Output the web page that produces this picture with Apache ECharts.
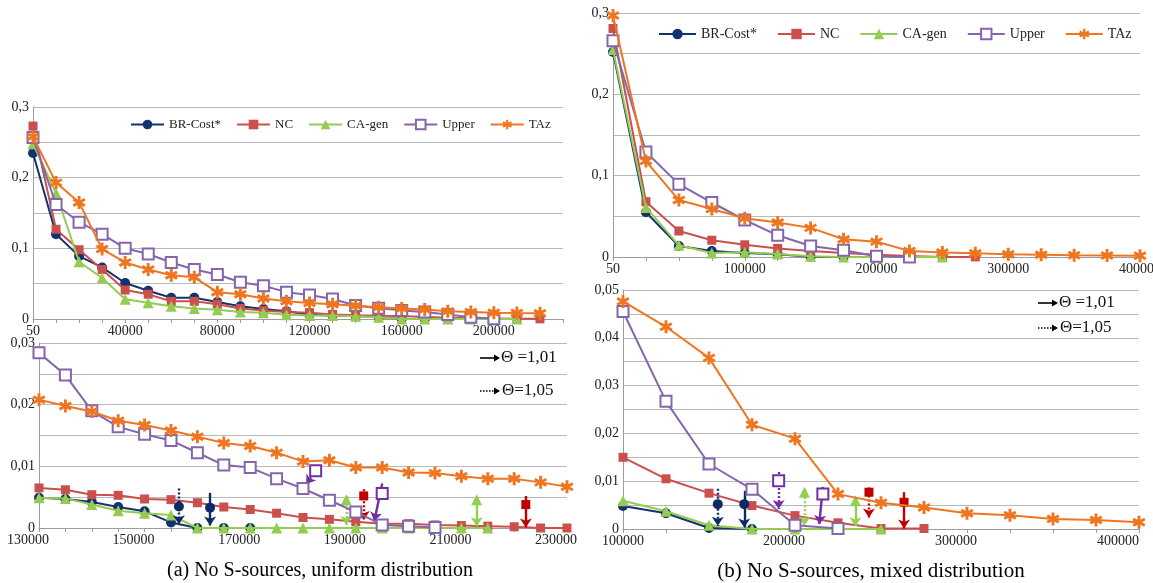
<!DOCTYPE html>
<html><head><meta charset="utf-8">
<script src="https://cdn.jsdelivr.net/npm/echarts@6/dist/echarts.min.js"></script>
<style>html,body{margin:0;padding:0;background:#fff}#c{width:1153px;height:583px}</style>
</head><body><div id="c"></div>
<script>
// ---------- names ----------
const seriesNames = ['BR-Cost*', 'NC', 'CA-gen', 'Upper', 'TAz'];
const captionA = '(a) No S-sources, uniform distribution';
const captionB = '(b) No S-sources, mixed distribution';
const thetaSolid = 'Θ =1,01';
const thetaDotted = 'Θ=1,05';

// ---------- (a) top: categories 50 .. 230000 ----------
const catsA1 = ['50','10000','20000','30000','40000','50000','60000','70000','80000','90000','100000','110000',
  '120000','130000','140000','150000','160000','170000','180000','190000','200000','210000','220000','230000'];
const brA1  = [0.235,0.120,0.089,0.073,0.051,0.040,0.030,0.030,0.024,0.018,0.014,0.011,0.006,0.0049,0.0042,0.0027,0,0];
const ncA1  = [0.273,0.127,0.098,0.070,0.041,0.035,0.025,0.025,0.021,0.015,0.012,0.010,0.009,0.0065,0.0054,0.0047,0.0041,0.0030,0.0017,0.0010,0.0007,0.0004,0.0002];
const caA1  = [0.248,0.178,0.081,0.058,0.028,0.023,0.018,0.015,0.013,0.010,0.009,0.006,0.005,0.0049,0.0038,0.0024,0,0,0,0,0,0];
const upA1  = [0.257,0.162,0.137,0.120,0.100,0.092,0.080,0.070,0.063,0.052,0.047,0.038,0.034,0.0284,0.0190,0.0152,0.0122,0.0098,0.0064,0.0026,0.0003];
const tazA1 = [0.258,0.193,0.165,0.099,0.080,0.070,0.062,0.059,0.038,0.035,0.029,0.025,0.0225,0.0208,0.0189,0.0167,0.0148,0.0133,0.0108,0.0098,0.0090,0.0084,0.0080];

// ---------- (a) bottom: 130000 .. 230000 step 5000 ----------
const xsA2 = [130000,135000,140000,145000,150000,155000,160000,165000,170000,175000,180000,185000,190000,
  195000,200000,205000,210000,215000,220000,225000,230000];
const brA2  = [0.0049,0.0047,0.0042,0.0034,0.0027,0.0009,0,0,0];
const ncA2  = [0.0065,0.0062,0.0054,0.0053,0.0047,0.0046,0.0041,0.0034,0.0030,0.0024,0.0017,0.0014,0.0010,0.0007,0.0007,0.0005,0.0004,0.0003,0.0002,0,0];
const caA2  = [0.0049,0.0048,0.0038,0.0028,0.0024,0.0021,0,0,0,0,0,0,0,0,0,0,0,0];
const upA2  = [0.0284,0.0248,0.0190,0.0164,0.0152,0.0142,0.0122,0.0102,0.0098,0.0080,0.0064,0.0045,0.0026,0.0005,0.0003,0.0001];
const tazA2 = [0.0208,0.0198,0.0189,0.0174,0.0167,0.0158,0.0148,0.0138,0.0133,0.0122,0.0108,0.0110,0.0098,0.0098,0.0090,0.0089,0.0084,0.0080,0.0080,0.0074,0.0067];
// arrows: [series index, theta, x top, y top, y of marker, x end, y end]
const arrowsA2 = [
  [0, 1.05, 156500, 0.0064, 0.0035, 156500, 0.0006],
  [0, 1.01, 162400, 0.0057, 0.0033, 162400, 0.0004],
  [1, 1.05, 191500, 0.0063, 0.0052, 191500, 0.0013],
  [1, 1.01, 222200, 0.0052, 0.0038, 222200, 0.0001],
  [2, 1.05, 188200, 0.0052, 0.0046, 188200, 0.0005],
  [2, 1.01, 212900, 0.0050, 0.0046, 212900, 0.0003],
  [3, 1.05, 182400, 0.0093, 0.0093, 180600, 0.0071],
  [3, 1.01, 195000, 0.0072, 0.0056, 193500, 0.0011]
];

// ---------- (b) top: categories 50 .. 400000 ----------
const catsB1 = ['50','25000','50000','75000','100000','125000','150000','175000','200000','225000','250000',
  '275000','300000','325000','350000','375000','400000'];
const brB1  = [0.252,0.055,0.0136,0.0074,0.0048,0.0033,0.0002,0];
const ncB1  = [0.281,0.068,0.032,0.0206,0.0150,0.0105,0.0075,0.0049,0.0028,0.0013,0.0001,0.0001];
const caB1  = [0.255,0.061,0.0144,0.0050,0.0059,0.0037,0.0008,0,0,0,0];
const upB1  = [0.266,0.129,0.0896,0.067,0.0455,0.0267,0.0136,0.0083,0.0008,0.0001];
const tazB1 = [0.297,0.118,0.070,0.059,0.0476,0.0423,0.0358,0.0218,0.0189,0.0073,0.0055,0.0045,0.0033,0.0029,0.0021,0.0019,0.0014];

// ---------- (b) bottom: 100000 .. 400000 step 25000 ----------
const xsB2 = [100000,125000,150000,175000,200000,225000,250000,275000,300000,325000,350000,375000,400000];
const brB2  = [0.0048,0.0033,0.0002,0];
const ncB2  = [0.0150,0.0105,0.0075,0.0049,0.0028,0.0013,0.0001,0.0001];
const caB2  = [0.0059,0.0037,0.0008,0,0,0,0];
const upB2  = [0.0455,0.0267,0.0136,0.0083,0.0008,0.0001];
const tazB2 = [0.0476,0.0423,0.0358,0.0218,0.0189,0.0073,0.0055,0.0045,0.0033,0.0029,0.0021,0.0019,0.0014];
const arrowsB2 = [
  [0, 1.05, 155100, 0.0084, 0.0052, 155100, 0.0007],
  [0, 1.01, 170500, 0.0080, 0.0052, 170500, 0.0003],
  [1, 1.05, 243000, 0.0087, 0.0077, 243000, 0.0024],
  [1, 1.01, 263400, 0.0077, 0.0056, 263400, 0.0001],
  [2, 1.05, 205500, 0.0083, 0.0077, 205500, 0.0007],
  [2, 1.01, 235100, 0.0065, 0.0059, 235100, 0.0006],
  [3, 1.05, 190500, 0.0119, 0.0101, 190500, 0.0042],
  [3, 1.01, 216200, 0.0088, 0.0073, 214100, 0.0010]
];

// ---------- styles ----------
const FONT = '"Liberation Serif", "DejaVu Serif", serif';
const lineColors  = ['#14326e', '#c9504c', '#94cc52', '#8466ad', '#ef7620'];
const arrowColors = ['#0e2a66', '#c00000', '#92d050', '#7030a0', '#e86c10'];
const ASTER = 'path://M0.78 0L0.78 2L1.22 2L1.22 0Z M1.756 1.6905L1.976 1.3095L0.244 0.3095L0.024 0.6905Z M1.976 0.6905L1.756 0.3095L0.024 1.3095L0.244 1.6905Z';
const symbols = ['circle', 'rect', 'triangle', 'emptyRect', ASTER];
const symSizes = [10, 9, 11, 11, 13];

function yAxis(grid, max, step, labelStep) {
  return {
    gridIndex: grid, type: 'value', min: 0, max: max, interval: step,
    axisLine: { show: true, lineStyle: { color: '#9c9c9c', width: 1 } },
    axisTick: { show: false },
    splitLine: { show: true, lineStyle: { color: '#b9b9b9', width: 1 } },
    axisLabel: {
      fontFamily: FONT, fontSize: 14, color: '#222', margin: 4,
      formatter: function (v) {
        const k = v / labelStep;
        if (Math.abs(k - Math.round(k)) > 1e-6) return '';
        if (Math.abs(v) < 1e-12) return '0';
        return String(+v.toFixed(4)).replace('.', ',');
      }
    }
  };
}
const xLine = { show: true, onZero: false, lineStyle: { color: '#9c9c9c', width: 1 } };
const xTick = { show: true, length: 4, lineStyle: { color: '#9c9c9c' } };
const richShift = {
  s: { fontFamily: FONT, fontSize: 14, color: '#222', padding: [0, 22, 0, 0] },
  n: { fontFamily: FONT, fontSize: 14, color: '#222' }
};
function catAxis(grid, cats) {
  return {
    gridIndex: grid, type: 'category', data: cats, boundaryGap: false,
    axisLine: xLine, axisTick: Object.assign({ interval: 0 }, xTick), splitLine: { show: false },
    axisLabel: { interval: 3, fontFamily: FONT, fontSize: 14, color: '#222', margin: 5 }
  };
}
function valAxis(grid, min, max, step, labelStep, firstPlain, alignMax) {
  return {
    gridIndex: grid, type: 'value', min: min, max: max, interval: step,
    axisLine: xLine, axisTick: xTick, splitLine: { show: false },
    axisLabel: {
      fontFamily: FONT, fontSize: 14, color: '#222', margin: 5,
      showMinLabel: true, showMaxLabel: true, hideOverlap: false,
      alignMaxLabel: alignMax || null,
      rich: richShift,
      formatter: function (v) {
        if (Math.abs((v - min) % labelStep) > 1e-6) return '';
        if ((firstPlain && v === min) || (alignMax && v === max)) return '{n|' + v + '}';
        return '{s|' + v + '}';
      }
    }
  };
}

function baseSeries(i, xi, data) {
  return {
    name: seriesNames[i], type: 'line', xAxisIndex: xi, yAxisIndex: xi,
    data: data, symbol: symbols[i], symbolSize: symSizes[i], showAllSymbol: true,
    connectNulls: false, z: 2 + i,
    lineStyle: { color: lineColors[i], width: 2 },
    itemStyle: { color: lineColors[i], borderWidth: i === 3 ? 1.6 : 0, borderColor: lineColors[i] },
    emphasis: { disabled: true }
  };
}
function pairs(xs, vals) { return vals.map(function (v, k) { return [xs[k], v]; }); }
function withArrows(s, i, arrows) {
  const list = arrows.filter(function (a) { return a[0] === i; });
  s.markLine = {
    silent: true, animation: false, symbol: ['none', 'arrow'], symbolSize: 9,
    label: { show: false }, emphasis: { disabled: true },
    lineStyle: { color: arrowColors[i], width: 2.4, type: 'solid' },
    data: list.map(function (a) {
      return [
        { coord: [a[2], a[3]], lineStyle: { color: arrowColors[i], width: 2.4, type: a[1] === 1.05 ? [2, 2] : 'solid' } },
        { coord: [a[5], a[6]] }
      ];
    })
  };
  s.markPoint = {
    silent: true, animation: false, label: { show: false },
    data: list.map(function (a) {
      return { coord: [a[2], a[4]], symbol: symbols[i], symbolSize: symSizes[i],
        itemStyle: { color: arrowColors[i], borderColor: arrowColors[i], borderWidth: i === 3 ? 1.8 : 0 } };
    })
  };
  return s;
}

const series = [];
[brA1, ncA1, caA1, upA1, tazA1].forEach(function (d, i) { series.push(baseSeries(i, 0, d)); });
[brA2, ncA2, caA2, upA2, tazA2].forEach(function (d, i) { series.push(withArrows(baseSeries(i, 1, pairs(xsA2, d)), i, arrowsA2)); });
[brB1, ncB1, caB1, upB1, tazB1].forEach(function (d, i) { series.push(baseSeries(i, 2, d)); });
[brB2, ncB2, caB2, upB2, tazB2].forEach(function (d, i) { series.push(withArrows(baseSeries(i, 3, pairs(xsB2, d)), i, arrowsB2)); });

function thetaLegend(x, y1, y2) {
  function arrow(y, dotted) {
    return [
      { type: 'line', shape: { x1: x, y1: y, x2: x + 15, y2: y },
        style: { stroke: '#000', lineWidth: dotted ? 1.5 : 1.6, lineDash: dotted ? [1.5, 1.5] : null } },
      { type: 'polygon', shape: { points: [[x + 14, y - 3.5], [x + 20, y], [x + 14, y + 3.5]] }, style: { fill: '#000' } }
    ];
  }
  return [].concat(arrow(y1, false), arrow(y2, true), [
    { type: 'text', x: x + 21, y: y1, style: { text: thetaSolid, font: '17px ' + FONT, fill: '#111', verticalAlign: 'middle' } },
    { type: 'text', x: x + 22, y: y2, style: { text: thetaDotted, font: '17px ' + FONT, fill: '#111', verticalAlign: 'middle' } }
  ]);
}

const legendText = { fontFamily: FONT, color: '#222' };
const option = {
  backgroundColor: '#fff',
  animation: false,
  grid: [
    { left: 33, top: 107, width: 530, height: 212, containLabel: false, outerBoundsMode: 'none' },
    { left: 39, top: 343, width: 528, height: 185, containLabel: false, outerBoundsMode: 'none' },
    { left: 613, top: 13, width: 527, height: 244, containLabel: false, outerBoundsMode: 'none' },
    { left: 623, top: 290, width: 516, height: 239, containLabel: false, outerBoundsMode: 'none' }
  ],
  xAxis: [
    catAxis(0, catsA1),
    valAxis(1, 130000, 230000, 5000, 20000, false, null),
    catAxis(2, catsB1),
    valAxis(3, 100000, 400000, 25000, 100000, true, 'right')
  ],
  yAxis: [
    yAxis(0, 0.3, 0.05, 0.1),
    yAxis(1, 0.03, 0.005, 0.01),
    yAxis(2, 0.3, 0.05, 0.1),
    yAxis(3, 0.05, 0.005, 0.01)
  ],
  legend: [
    { data: seriesNames, left: 130, top: 118, padding: 0, itemWidth: 33, itemHeight: 12, itemGap: 15, selectedMode: false,
      textStyle: Object.assign({ fontSize: 13 }, legendText) },
    { data: seriesNames, left: 658, top: 27, padding: 0, itemWidth: 37, itemHeight: 13, itemGap: 20, selectedMode: false,
      textStyle: Object.assign({ fontSize: 14 }, legendText) }
  ],
  graphic: [].concat(
    thetaLegend(480, 358, 391),
    thetaLegend(1038, 303, 328),
    [
      { type: 'text', x: 320, y: 571, style: { text: captionA, font: '20px ' + FONT, fill: '#000', align: 'center', verticalAlign: 'middle' } },
      { type: 'text', x: 871, y: 571, style: { text: captionB, font: '21px ' + FONT, fill: '#000', align: 'center', verticalAlign: 'middle' } }
    ]
  ),
  series: series
};
const chart = echarts.init(document.getElementById('c'), null, { renderer: 'canvas' });
chart.setOption(option);
</script></body></html>
